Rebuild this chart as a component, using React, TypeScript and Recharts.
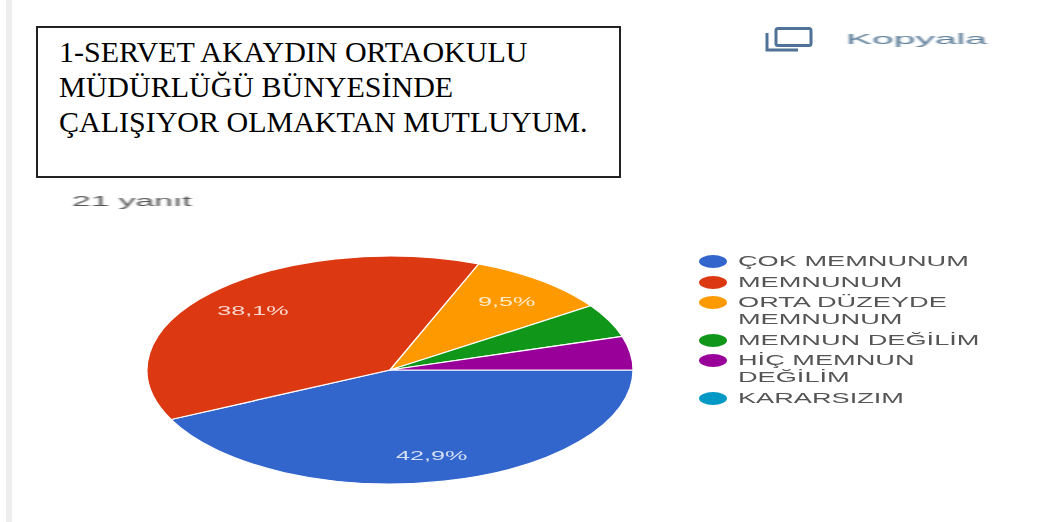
import React from "react";
import { PieChart, Pie, Legend } from "recharts";

const titleLines = ["1-SERVET AKAYDIN ORTAOKULU", "MÜDÜRLÜĞÜ BÜNYESİNDE", "ÇALIŞIYOR OLMAKTAN MUTLUYUM."];
const answerCount = "21 yanıt";
const copyLabel = "Kopyala";
const categories = ["ÇOK MEMNUNUM", "MEMNUNUM", "ORTA DÜZEYDE\nMEMNUNUM", "MEMNUN DEĞİLİM", "HİÇ MEMNUN\nDEĞİLİM", "KARARSIZIM"];
const responses = [9, 8, 2, 1, 1, 0];
const colors = ["#3366cc", "#dc3912", "#ff9900", "#109618", "#990099", "#0099c6"];

const tableData = categories.map((name, i) => ({ name, value: responses[i], fill: colors[i] }));

const SQUASH = 114 / 243;
const RAD = Math.PI / 180;

const EllipseSector = (props: any) => {
  const { cx, cy, outerRadius, startAngle, endAngle, fill } = props;
  if (Math.abs(endAngle - startAngle) < 0.01) return null;
  const rx = outerRadius;
  const ry = outerRadius * SQUASH;
  const x1 = cx + rx * Math.cos(-startAngle * RAD);
  const y1 = cy + ry * Math.sin(-startAngle * RAD);
  const x2 = cx + rx * Math.cos(-endAngle * RAD);
  const y2 = cy + ry * Math.sin(-endAngle * RAD);
  const large = Math.abs(endAngle - startAngle) > 180 ? 1 : 0;
  return <path d={`M${cx} ${cy}L${x1} ${y1}A${rx} ${ry} 0 ${large} 1 ${x2} ${y2}Z`} fill={fill} stroke="#fff" strokeWidth={1.2} />;
};

const renderLabel = (props: any) => {
  const { cx, cy, midAngle, outerRadius, percent } = props;
  if (percent < 0.05) return null;
  const r = outerRadius * 0.77;
  const x = cx + r * Math.cos(-midAngle * RAD);
  const y = cy + r * SQUASH * Math.sin(-midAngle * RAD);
  return (
    <text transform={`translate(${x},${y}) scale(2.1,1)`} textAnchor="middle" dominantBaseline="central" fill="#fff" fontSize={12} fontFamily="Liberation Sans" opacity={0.8}>
      {(percent * 100).toFixed(1).replace(".", ",") + "%"}
    </text>
  );
};

const stretched: React.CSSProperties = { display: "block", transform: "scaleX(1.94)", transformOrigin: "left center", whiteSpace: "nowrap" };

const renderLegend = (props: any) => (
  <div style={{ filter: "blur(0.7px)" }}>
    {props.payload.map((entry: any) => (
      <div key={entry.value} style={{ position: "relative", paddingLeft: 39, marginBottom: 3.5, fontSize: 14, lineHeight: "17px", color: "#555", fontFamily: "Liberation Sans" }}>
        <span style={{ position: "absolute", left: 0, top: 2, width: 28, height: 13, borderRadius: "50%", background: entry.color }} />
        {String(entry.value).split("\n").map((line: string) => (
          <span key={line} style={stretched}>{line}</span>
        ))}
      </div>
    ))}
  </div>
);

export default function App() {
  return (
    <div style={{ position: "absolute", left: 0, top: 0, width: 1057, height: 522, background: "#fff", overflow: "hidden" }}>
      <div style={{ position: "absolute", left: 6, top: 0, width: 6, height: 522, background: "#eeeeee" }} />
      <div style={{ position: "absolute", left: 36, top: 26, width: 585, height: 152, boxSizing: "border-box", border: "2px solid #222", paddingLeft: 21, paddingTop: 6, fontFamily: "Liberation Serif", fontSize: 30, lineHeight: "35px", color: "#000", background: "#fff", zIndex: 2 }}>
        {titleLines.map((line) => <div key={line} style={{ whiteSpace: "nowrap" }}>{line}</div>)}
      </div>
      <div style={{ position: "absolute", left: 72, top: 191, fontFamily: "Liberation Sans", fontSize: 14, lineHeight: "20px", color: "#555", transform: "scaleX(2.4)", transformOrigin: "left center", filter: "blur(0.7px)" }}>{answerCount}</div>
      <svg width={54} height={32} style={{ position: "absolute", left: 762, top: 24, filter: "blur(0.6px)" }}>
        <rect x={14} y={4.5} width={35} height={17} rx={2} fill="none" stroke="#4f7396" strokeWidth={3} />
        <path d="M5 9V26H36" fill="none" stroke="#4f7396" strokeWidth={3} />
      </svg>
      <div style={{ position: "absolute", left: 846, top: 29, fontFamily: "Liberation Sans", fontSize: 15, lineHeight: "20px", color: "#5c7d99", transform: "scaleX(2.6)", transformOrigin: "left center", filter: "blur(0.6px)" }}>{copyLabel}</div>
      <div style={{ position: "absolute", left: 0, top: 0, filter: "blur(0.5px)" }}>
        <PieChart width={1057} height={522} margin={{ top: 0, right: 0, bottom: 0, left: 0 }}>
          <Pie
            data={tableData}
            dataKey="value"
            nameKey="name"
            cx={390}
            cy={370}
            innerRadius={0}
            outerRadius={243}
            startAngle={0}
            endAngle={-360}
            paddingAngle={0}
            isAnimationActive={false}
            shape={EllipseSector as any}
            activeShape={EllipseSector as any}
            inactiveShape={EllipseSector as any}
            label={renderLabel}
            labelLine={false}
          />
          <Legend layout="vertical" align="right" verticalAlign="top" itemSorter={null} content={renderLegend} wrapperStyle={{ left: 699, top: 253, right: "auto", bottom: "auto", width: 340 }} />
        </PieChart>
      </div>
    </div>
  );
}
